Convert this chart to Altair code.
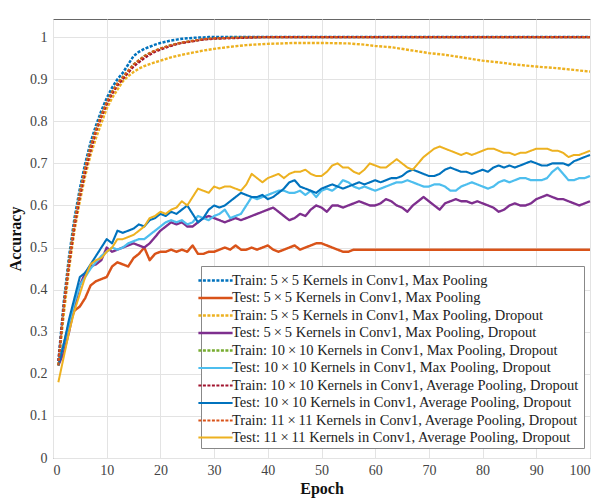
import altair as alt
import pandas as pd

# ---------------- data ----------------
series_names = [
    "Train: 5\u2009\u00d7\u20095 Kernels in Conv1, Max Pooling",
    "Test: 5\u2009\u00d7\u20095 Kernels in Conv1, Max Pooling",
    "Train: 5\u2009\u00d7\u20095 Kernels in Conv1, Max Pooling, Dropout",
    "Test: 5\u2009\u00d7\u20095 Kernels in Conv1, Max Pooling, Dropout",
    "Train: 10\u2009\u00d7\u200910 Kernels in Conv1, Max Pooling, Dropout",
    "Test: 10\u2009\u00d7\u200910 Kernels in Conv1, Max Pooling, Dropout",
    "Train: 10\u2009\u00d7\u200910 Kernels in Conv1, Average Pooling, Dropout",
    "Test: 10\u2009\u00d7\u200910 Kernels in Conv1, Average Pooling, Dropout",
    "Train: 11\u2009\u00d7\u200911 Kernels in Conv1, Average Pooling, Dropout",
    "Test: 11\u2009\u00d7\u200911 Kernels in Conv1, Average Pooling, Dropout",
]
colors = ["#0072BD", "#D95319", "#EDB120", "#7E2F8E", "#77AC30",
          "#4DBEEE", "#A2142F", "#0072BD", "#D95319", "#EDB120"]
dashes = [[3, 1.5], [1, 0], [3, 1.5], [1, 0], [3, 1.5],
          [1, 0], [3, 1.5], [1, 0], [3, 1.5], [1, 0]]
widths = [2.5, 2, 2.5, 2, 2.5, 2, 2.5, 2.2, 2.5, 3]

epochs_test = list(range(1, 101))
epochs_train = list(range(1, 31)) + [35, 40, 50, 60, 70, 80, 90, 100]

train_5_max = [0.23, 0.37, 0.48, 0.57, 0.64, 0.70, 0.75, 0.79, 0.825, 0.855,
               0.88, 0.90, 0.915, 0.935, 0.955, 0.965, 0.972, 0.977, 0.982, 0.986,
               0.989, 0.992, 0.994, 0.996, 0.997, 0.998, 0.999, 0.999, 1.0, 1.0,
               1.0, 1.0, 1.0, 1.0, 1.0, 1.0, 1.0, 1.0]
train_10_max_d = [0.22, 0.36, 0.47, 0.56, 0.63, 0.69, 0.74, 0.78, 0.815, 0.845,
                  0.87, 0.89, 0.905, 0.92, 0.935, 0.945, 0.955, 0.962, 0.968, 0.973,
                  0.977, 0.981, 0.984, 0.987, 0.989, 0.991, 0.993, 0.995, 0.996, 0.997,
                  0.999, 1.0, 1.0, 1.0, 1.0, 1.0, 1.0, 1.0]
train_10_avg_d = [0.23, 0.36, 0.46, 0.55, 0.62, 0.68, 0.73, 0.775, 0.81, 0.84,
                  0.865, 0.885, 0.90, 0.915, 0.93, 0.94, 0.95, 0.958, 0.965, 0.97,
                  0.975, 0.979, 0.983, 0.986, 0.988, 0.99, 0.992, 0.994, 0.995, 0.996,
                  0.998, 1.0, 1.0, 1.0, 1.0, 1.0, 1.0, 1.0]
train_11_avg_d = [0.22, 0.36, 0.47, 0.56, 0.63, 0.69, 0.74, 0.78, 0.815, 0.845,
                  0.87, 0.89, 0.905, 0.92, 0.935, 0.945, 0.955, 0.962, 0.968, 0.973,
                  0.977, 0.981, 0.984, 0.987, 0.989, 0.991, 0.993, 0.995, 0.996, 0.997,
                  0.999, 1.0, 1.0, 1.0, 1.0, 1.0, 1.0, 1.0]

epochs_train_drop = list(range(1, 21)) + [22, 24, 26, 28, 30, 33, 36, 40, 45, 50, 55, 58,
                                          60, 63, 66, 70, 73, 76, 80, 83, 86, 90, 94, 97, 100]
train_5_max_d = [0.22, 0.34, 0.45, 0.54, 0.61, 0.67, 0.72, 0.76, 0.795, 0.83,
                 0.855, 0.875, 0.895, 0.907, 0.917, 0.925, 0.931, 0.936, 0.94, 0.944,
                 0.952, 0.958, 0.963, 0.968, 0.972, 0.977, 0.981, 0.984, 0.986, 0.986,
                 0.985, 0.982, 0.979, 0.976, 0.970, 0.962, 0.958, 0.952, 0.944, 0.940,
                 0.935, 0.930, 0.926, 0.922, 0.918]

test_5_max = [0.23, 0.27, 0.32, 0.35, 0.36, 0.38, 0.41, 0.42, 0.425, 0.43,
              0.455, 0.465, 0.46, 0.455, 0.475, 0.485, 0.50, 0.47, 0.485, 0.49,
              0.49, 0.495, 0.49, 0.495, 0.49, 0.505, 0.485, 0.485, 0.49, 0.49,
              0.495, 0.50, 0.495, 0.505, 0.495, 0.495, 0.50, 0.495, 0.50, 0.505,
              0.495, 0.49, 0.495, 0.50, 0.505, 0.495, 0.50, 0.505, 0.51, 0.51,
              0.505, 0.50, 0.495, 0.49, 0.49, 0.495, 0.495, 0.495, 0.495, 0.495,
              0.495, 0.495, 0.495, 0.495, 0.495, 0.495, 0.495, 0.495, 0.495, 0.495,
              0.495, 0.495, 0.495, 0.495, 0.495, 0.495, 0.495, 0.495, 0.495, 0.495,
              0.495, 0.495, 0.495, 0.495, 0.495, 0.495, 0.495, 0.495, 0.495, 0.495,
              0.495, 0.495, 0.495, 0.495, 0.495, 0.495, 0.495, 0.495, 0.495, 0.495]
test_5_max_d = [0.22, 0.25, 0.30, 0.36, 0.41, 0.44, 0.455, 0.46, 0.47, 0.50,
                0.49, 0.495, 0.50, 0.505, 0.51, 0.505, 0.50, 0.51, 0.525, 0.54,
                0.55, 0.56, 0.555, 0.56, 0.55, 0.55, 0.56, 0.57, 0.575, 0.57,
                0.565, 0.56, 0.565, 0.57, 0.565, 0.57, 0.575, 0.58, 0.585, 0.59,
                0.595, 0.585, 0.575, 0.565, 0.57, 0.58, 0.575, 0.59, 0.60, 0.595,
                0.585, 0.60, 0.60, 0.595, 0.60, 0.605, 0.61, 0.605, 0.60, 0.60,
                0.605, 0.615, 0.61, 0.60, 0.595, 0.585, 0.60, 0.61, 0.62, 0.61,
                0.60, 0.59, 0.605, 0.61, 0.615, 0.61, 0.61, 0.605, 0.61, 0.605,
                0.60, 0.595, 0.585, 0.59, 0.60, 0.605, 0.60, 0.60, 0.605, 0.615,
                0.62, 0.625, 0.62, 0.615, 0.615, 0.61, 0.605, 0.60, 0.605, 0.61]
test_10_max_d = [0.23, 0.27, 0.32, 0.37, 0.41, 0.43, 0.45, 0.465, 0.48, 0.49,
                 0.50, 0.495, 0.50, 0.51, 0.515, 0.52, 0.52, 0.53, 0.54, 0.55,
                 0.56, 0.565, 0.56, 0.565, 0.555, 0.56, 0.575, 0.57, 0.565, 0.575,
                 0.58, 0.59, 0.57, 0.575, 0.58, 0.60, 0.62, 0.615, 0.62, 0.625,
                 0.63, 0.635, 0.635, 0.63, 0.63, 0.635, 0.625, 0.635, 0.62, 0.635,
                 0.64, 0.635, 0.645, 0.66, 0.655, 0.645, 0.64, 0.645, 0.64, 0.635,
                 0.64, 0.645, 0.65, 0.655, 0.655, 0.66, 0.655, 0.65, 0.645, 0.645,
                 0.65, 0.65, 0.645, 0.635, 0.635, 0.645, 0.65, 0.655, 0.65, 0.645,
                 0.64, 0.645, 0.655, 0.66, 0.655, 0.66, 0.665, 0.665, 0.66, 0.66,
                 0.66, 0.665, 0.68, 0.69, 0.675, 0.66, 0.66, 0.665, 0.665, 0.67]
test_10_avg_d = [0.22, 0.27, 0.33, 0.38, 0.43, 0.44, 0.46, 0.48, 0.50, 0.52,
                 0.51, 0.54, 0.535, 0.54, 0.545, 0.555, 0.55, 0.565, 0.57, 0.58,
                 0.575, 0.585, 0.58, 0.59, 0.60, 0.58, 0.56, 0.57, 0.59, 0.60,
                 0.595, 0.60, 0.61, 0.62, 0.63, 0.625, 0.62, 0.62, 0.625, 0.615,
                 0.62, 0.63, 0.64, 0.655, 0.66, 0.645, 0.64, 0.635, 0.63, 0.64,
                 0.645, 0.65, 0.645, 0.64, 0.645, 0.65, 0.655, 0.65, 0.655, 0.66,
                 0.655, 0.66, 0.665, 0.665, 0.67, 0.68, 0.685, 0.68, 0.675, 0.67,
                 0.67, 0.675, 0.685, 0.69, 0.685, 0.68, 0.68, 0.675, 0.68, 0.685,
                 0.68, 0.69, 0.695, 0.69, 0.695, 0.69, 0.695, 0.70, 0.705, 0.70,
                 0.695, 0.695, 0.70, 0.70, 0.70, 0.695, 0.705, 0.71, 0.715, 0.72]
test_11_avg_d = [0.18, 0.24, 0.30, 0.35, 0.39, 0.43, 0.46, 0.47, 0.475, 0.49,
                 0.50, 0.52, 0.52, 0.525, 0.53, 0.54, 0.55, 0.57, 0.575, 0.585,
                 0.58, 0.59, 0.595, 0.61, 0.60, 0.62, 0.64, 0.635, 0.63, 0.645,
                 0.64, 0.645, 0.645, 0.64, 0.635, 0.65, 0.675, 0.665, 0.655, 0.665,
                 0.67, 0.675, 0.665, 0.675, 0.68, 0.68, 0.685, 0.675, 0.67, 0.67,
                 0.68, 0.695, 0.70, 0.69, 0.69, 0.68, 0.675, 0.685, 0.70, 0.695,
                 0.69, 0.69, 0.70, 0.71, 0.70, 0.69, 0.685, 0.70, 0.715, 0.725,
                 0.735, 0.74, 0.735, 0.73, 0.725, 0.72, 0.725, 0.72, 0.725, 0.73,
                 0.735, 0.735, 0.73, 0.725, 0.725, 0.72, 0.725, 0.725, 0.73, 0.735,
                 0.735, 0.735, 0.73, 0.73, 0.725, 0.715, 0.72, 0.72, 0.725, 0.73]

x_ticks = list(range(0, 101, 10))
y_ticks = [0, 0.1, 0.2, 0.3, 0.4, 0.5, 0.6, 0.7, 0.8, 0.9, 1.0]

# ---------------- table ----------------
series_data = [
    (epochs_train, train_5_max),
    (epochs_test, test_5_max),
    (epochs_train_drop, train_5_max_d),
    (epochs_test, test_5_max_d),
    (epochs_train, train_10_max_d),
    (epochs_test, test_10_max_d),
    (epochs_train, train_10_avg_d),
    (epochs_test, test_10_avg_d),
    (epochs_train, train_11_avg_d),
    (epochs_test, test_11_avg_d),
]
rows = []
for i, (name, (ex, ys)) in enumerate(zip(series_names, series_data)):
    for e, v in zip(ex, ys):
        rows.append({"series": name, "order": i, "epoch": e, "acc": v})
df = pd.DataFrame(rows)

serif = "Times New Roman, Liberation Serif, serif"

legend = alt.Legend(
    orient="none", legendX=148, legendY=247, title=None,
    labelFont=serif, labelFontSize=14.5, labelColor="#222", labelLimit=420,
    symbolType="M-1.9,0L1.9,0", symbolSize=324, symbolStrokeWidth=2.5,
    labelOffset=6, fillColor="white", strokeColor="#888",
    padding=4, rowPadding=0.5, cornerRadius=0,
)

chart = (
    alt.Chart(df)
    .mark_line(strokeCap="butt", strokeJoin="round")
    .encode(
        x=alt.X("epoch:Q",
                scale=alt.Scale(domain=[0, 100], nice=False),
                axis=alt.Axis(values=x_ticks, title="Epoch", labelFont=serif)),
        y=alt.Y("acc:Q",
                scale=alt.Scale(domain=[0, 1.043], nice=False, zero=False),
                axis=alt.Axis(values=y_ticks, title="Accuracy", labelFont=serif,
                              labelExpr="format(datum.value, '.1~f')")),
        color=alt.Color("series:N",
                        scale=alt.Scale(domain=series_names, range=colors),
                        sort=series_names, legend=legend),
        strokeDash=alt.StrokeDash("series:N",
                                  scale=alt.Scale(domain=series_names, range=dashes),
                                  sort=series_names, legend=legend),
        strokeWidth=alt.StrokeWidth("series:N",
                                    scale=alt.Scale(domain=series_names, range=widths),
                                    sort=series_names, legend=legend),
        order=alt.Order("order:Q"),
        detail="order:Q",
    )
    .properties(
        width=537, height=439,
        autosize=alt.AutoSizeParams(type="none"),
        padding={"left": 45, "top": 11, "right": 3, "bottom": 40},
    )
    .configure(font=serif,
               style={"guide-label": {"font": serif}, "guide-title": {"font": serif}})
    .configure_view(stroke="#666", strokeWidth=1)
    .configure_axis(
        labelFont=serif, labelFontSize=14, labelColor="#444",
        titleFont=serif, titleFontSize=16, titleFontWeight="bold", titleColor="#111",
        gridColor="#e3e3e3", gridWidth=1,
        domain=False, ticks=False,
    )
    .configure_axisX(titlePadding=3, labelPadding=5)
    .configure_axisY(titlePadding=6, labelPadding=6)
)

chart.save("out.html", embed_options={"renderer": "svg", "actions": False})
